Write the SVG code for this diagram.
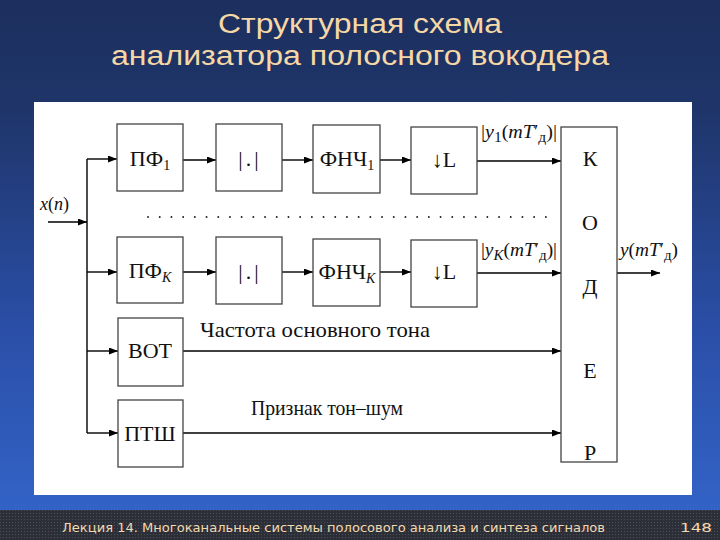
<svg xmlns="http://www.w3.org/2000/svg" width="720" height="540" viewBox="0 0 720 540">
<defs>
<linearGradient id="bg" x1="0" y1="0" x2="0" y2="1">
<stop offset="0" stop-color="#1c2f5e"/>
<stop offset="0.2" stop-color="#1f3569"/>
<stop offset="0.6" stop-color="#2a4ea6"/>
<stop offset="1" stop-color="#3466cc"/>
</linearGradient>
<pattern id="dots" width="3" height="3" patternUnits="userSpaceOnUse">
<rect width="3" height="3" fill="#2c2f38"/>
<rect width="1" height="1" fill="#4a4e58"/>
</pattern>
<marker id="ar" markerUnits="userSpaceOnUse" markerWidth="10" markerHeight="8" refX="9" refY="3.5" orient="auto">
<path d="M0,0 L9,3.5 L0,7 z" fill="#000"/>
</marker>
<style>
.box{fill:#fff;stroke:#444;stroke-width:1.3}
.lbl{font-family:"Liberation Serif","Times New Roman",serif;font-size:22px;fill:#111;text-anchor:middle}
.it{font-style:italic}
.sub{font-size:14px}
.cap{font-family:"Liberation Serif","Times New Roman",serif;font-size:18px;fill:#111}
.big{font-size:21px}
.ln{stroke:#000;stroke-width:1.4;fill:none}
.ar{marker-end:url(#ar)}
.ttl{font-family:"Liberation Sans",Arial,sans-serif;font-size:27px;fill:#f6d7a6;text-anchor:middle}
.ft{font-family:"DejaVu Sans",Verdana,sans-serif;font-size:12.5px;fill:#f2d9ae}
</style>
</defs>
<rect width="720" height="540" fill="url(#bg)"/>
<rect x="0" y="510" width="720" height="30" fill="url(#dots)"/>
<text class="ttl" x="360" y="33" textLength="284" lengthAdjust="spacingAndGlyphs">Структурная схема</text>
<text class="ttl" x="360" y="65" textLength="498" lengthAdjust="spacingAndGlyphs">анализатора полосного вокодера</text>
<rect x="34" y="102" width="658" height="393" fill="#fff"/>
<text class="ft" x="62" y="532" textLength="543" lengthAdjust="spacingAndGlyphs">Лекция 14. Многоканальные  системы полосового анализа и синтеза сигналов</text>
<text class="ft" x="680" y="532" textLength="32" lengthAdjust="spacingAndGlyphs">148</text>

<g id="connectors">
<path class="ln ar" d="M48,222 H87"/>
<path class="ln" d="M87,159 V433"/>
<path class="ln ar" d="M87,159 H117"/>
<path class="ln ar" d="M87,272 H117"/>
<path class="ln ar" d="M87,351 H118"/>
<path class="ln ar" d="M87,433 H118"/>
<path class="ln ar" d="M183,160 H216"/>
<path class="ln ar" d="M282,160 H313"/>
<path class="ln ar" d="M380,160 H411"/>
<path class="ln ar" d="M477,161 H561"/>
<path class="ln ar" d="M183,272 H216"/>
<path class="ln ar" d="M282,272 H313"/>
<path class="ln ar" d="M380,272 H411"/>
<path class="ln ar" d="M477,273 H561"/>
<path class="ln ar" d="M183,351 H561"/>
<path class="ln ar" d="M183,433 H561"/>
<path class="ln ar" d="M617,273 H660"/>
<path d="M148,217 H548" stroke="#222" stroke-width="1.8" stroke-linecap="round" stroke-dasharray="0.1 11.6" fill="none"/>
<text class="cap" x="40" y="210"><tspan class="it">x</tspan>(<tspan class="it">n</tspan>)</text>
<text class="cap" x="481" y="138" textLength="76" lengthAdjust="spacingAndGlyphs">|<tspan class="it">y</tspan><tspan class="sub" dy="4">1</tspan><tspan dy="-4">(</tspan><tspan class="it">mT</tspan>′<tspan class="sub" dy="4">д</tspan><tspan dy="-4">)|</tspan></text>
<text class="cap" x="481" y="256" textLength="76" lengthAdjust="spacingAndGlyphs">|<tspan class="it">y</tspan><tspan class="sub it" dy="4">K</tspan><tspan dy="-4">(</tspan><tspan class="it">mT</tspan>′<tspan class="sub" dy="4">д</tspan><tspan dy="-4">)|</tspan></text>
<text class="cap" x="620" y="256" textLength="58" lengthAdjust="spacingAndGlyphs"><tspan class="it">y</tspan>(<tspan class="it">mT</tspan>′<tspan class="sub" dy="4">д</tspan><tspan dy="-4">)</tspan></text>
<text class="cap big" x="200" y="337" textLength="230" lengthAdjust="spacingAndGlyphs">Частота основного тона</text>
<text class="cap big" x="251" y="415" textLength="152" lengthAdjust="spacingAndGlyphs">Признак тон–шум</text>
</g>

<g id="pf1"><rect class="box" x="117" y="124" width="66" height="67"/><text class="lbl" x="150" y="166">ПФ<tspan class="sub" dy="4">1</tspan></text></g>
<g id="abs1"><rect class="box" x="216" y="124" width="66" height="67"/><text class="lbl" x="250" y="166" letter-spacing="3">|.|</text></g>
<g id="fnch1"><rect class="box" x="313" y="125" width="67" height="68"/><text class="lbl" x="347" y="166">ФНЧ<tspan class="sub" dy="4">1</tspan></text></g>
<g id="dec1"><rect class="box" x="411" y="127" width="66" height="67"/><text class="lbl" x="444" y="167">↓L</text></g>

<g id="pfk"><rect class="box" x="117" y="237" width="66" height="66"/><text class="lbl" x="150" y="278">ПФ<tspan class="sub it" dy="4">K</tspan></text></g>
<g id="absk"><rect class="box" x="216" y="237" width="66" height="67"/><text class="lbl" x="250" y="279" letter-spacing="3">|.|</text></g>
<g id="fnchk"><rect class="box" x="313" y="239" width="67" height="67"/><text class="lbl" x="347" y="279">ФНЧ<tspan class="sub it" dy="4">K</tspan></text></g>
<g id="deck"><rect class="box" x="411" y="240" width="66" height="67"/><text class="lbl" x="444" y="279">↓L</text></g>

<g id="vot"><rect class="box" x="118" y="318" width="65" height="68"/><text class="lbl" x="150" y="358">ВОТ</text></g>
<g id="ptsh"><rect class="box" x="118" y="400" width="65" height="67"/><text class="lbl" x="150" y="441">ПТШ</text></g>

<g id="coder"><rect class="box" x="561" y="127" width="56" height="335"/>
<text class="lbl" x="590" y="166">К</text>
<text class="lbl" x="590" y="230">О</text>
<text class="lbl" x="590" y="294">Д</text>
<text class="lbl" x="590" y="378">Е</text>
<text class="lbl" x="590" y="460">Р</text>
</g>
</svg>
